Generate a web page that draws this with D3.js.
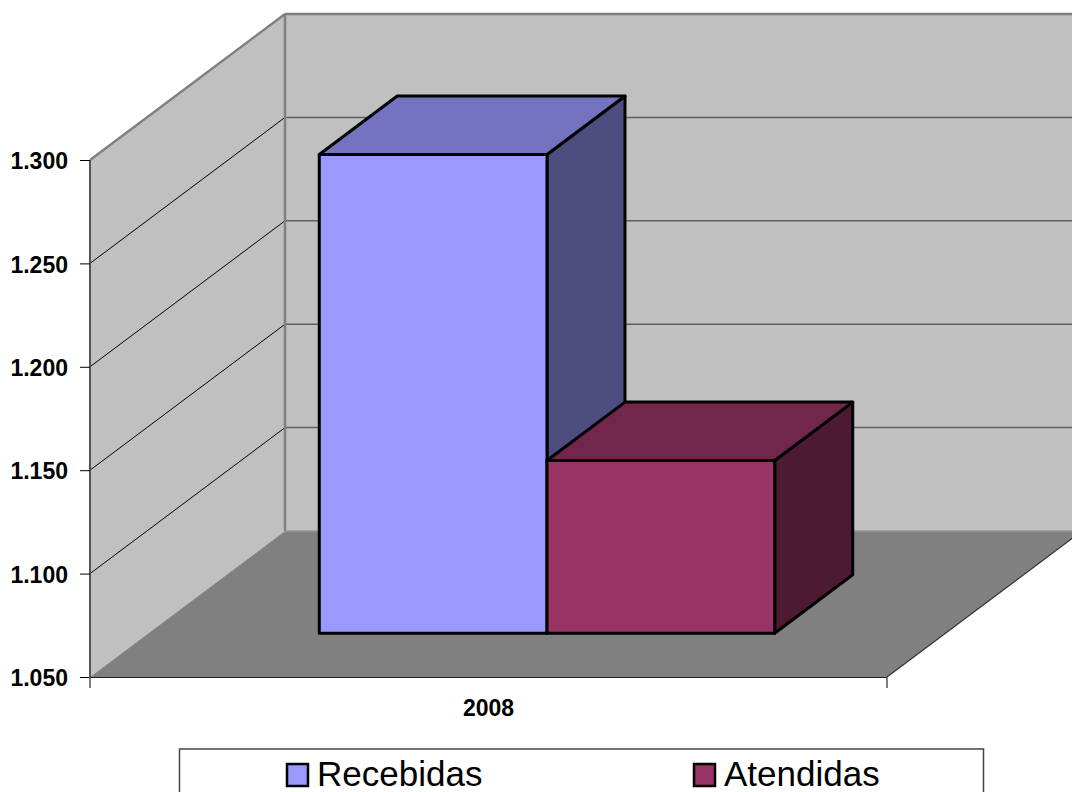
<!DOCTYPE html>
<html><head><meta charset="utf-8">
<script src="https://cdnjs.cloudflare.com/ajax/libs/d3/7.8.5/d3.min.js"></script>
<style>html,body{margin:0;padding:0;background:#fff;overflow:hidden}svg{display:block;font-family:"Liberation Sans",Arial,sans-serif}</style>
</head><body><svg id="c" width="1072" height="792"></svg>
<script>
const categories = ["2008"];
const seriesNames = ["Recebidas", "Atendidas"];
const seriesValues = [1281.5, 1133.5];
const frontColors = ["#9999FF", "#993366"];
const topColors = ["#7373BF", "#73264C"];
const sideColors = ["#4D4D80", "#4D1A33"];
const yTicks = [1050, 1100, 1150, 1200, 1250, 1300];

const svg = d3.select("#c");
const y = d3.scaleLinear().domain([1050, 1300]).range([677, 160]);
const x0 = d3.scaleBand().domain(categories).range([90, 887]);
const depth = d3.scaleLinear().domain([0, 1]).range([0, 1]);
const DX = 195, DY = -146;
const px = (x, d) => x + depth(d) * DX;
const py = (v, d) => y(v) + depth(d) * DY;
const poly = (pts, fill, stroke, sw) => svg.append("polygon")
  .attr("points", pts.map(p => p.join(",")).join(" "))
  .attr("fill", fill).attr("stroke", stroke || "none").attr("stroke-width", sw || 0).attr("stroke-linejoin", "round");
const [vMin, vMax] = y.domain();
const xL = x0.range()[0], xR = x0.range()[1];

// walls
poly([[px(xL,1),py(vMin,1)],[px(xR,1),py(vMin,1)],[px(xR,1),py(vMax,1)],[px(xL,1),py(vMax,1)]], "#C0C0C0");
poly([[px(xL,0),py(vMin,0)],[px(xL,1),py(vMin,1)],[px(xL,1),py(vMax,1)],[px(xL,0),py(vMax,0)]], "#C0C0C0");
poly([[px(xL,0),py(vMin,0)],[px(xR,0),py(vMin,0)],[px(xR,1),py(vMin,1)],[px(xL,1),py(vMin,1)]], "#808080");

// gridlines
yTicks.slice(1, -1).forEach(t => {
  svg.append("line").attr("x1", px(xL,0)).attr("y1", py(t,0)).attr("x2", px(xL,1)).attr("y2", py(t,1)).attr("stroke", "#000").attr("stroke-width", 1);
  svg.append("line").attr("x1", px(xL,1)).attr("y1", py(t,1)).attr("x2", px(xR,1)).attr("y2", py(t,1)).attr("stroke", "#5f5f5f").attr("stroke-width", 1.5);
});

// wall borders
const line = (a, b, c, w) => svg.append("line").attr("x1", a[0]).attr("y1", a[1]).attr("x2", b[0]).attr("y2", b[1]).attr("stroke", c).attr("stroke-width", w);
line([px(xL,1),py(vMin,1)], [px(xL,1),py(vMax,1)], "#808080", 2.5);
line([px(xL,1),py(vMax,1)], [px(xR,1),py(vMax,1)], "#808080", 2.5);
line([px(xL,0),py(vMax,0)], [px(xL,1),py(vMax,1)], "#808080", 2.5);
line([px(xL,1),py(vMin,1)], [px(xR,1),py(vMin,1)], "#969696", 1.5);
line([px(xL,0),py(vMin,0)], [px(xL,0),py(vMax,0)], "#555", 2);
line([px(xR,0),py(vMin,0)], [px(xR,1),py(vMin,1)], "#333", 1.2);

// axes
const fmt = d3.formatLocale({decimal: ",", thousands: ".", grouping: [3], currency: ["", ""]}).format(",d");
const yAxis = svg.append("g").attr("transform", `translate(${xL},0)`)
  .call(d3.axisLeft(y).tickValues(yTicks).tickFormat(fmt).tickSize(10).tickPadding(12));
yAxis.select(".domain").remove();
yAxis.selectAll("line").attr("stroke", "#000").attr("stroke-width", 1);
yAxis.selectAll("text").attr("font-size", 23).attr("font-weight", "bold").attr("fill", "#000").attr("font-family", "Liberation Sans").attr("dy", "0.38em");

const xAxis = svg.append("g").attr("transform", "translate(0,677)")
  .call(d3.axisBottom(x0).tickSize(0).tickPadding(23));
xAxis.select(".domain").remove();
xAxis.selectAll("text").attr("font-size", 23).attr("font-weight", "bold").attr("fill", "#000").attr("font-family", "Liberation Sans");
line([xL,677.5],[xR,677.5],"#222",1.2);
line([xL,677],[xL,688],"#555",1.5);
line([xR,677],[xR,688],"#555",1.5);

// bars
const band = d3.scaleBand().domain(seriesNames).range([x0(categories[0]), x0(categories[0]) + x0.bandwidth()]).paddingOuter(0.75).paddingInner(0);
const d1 = 0.3, d2 = 0.7;
seriesNames.forEach((s, i) => {
  const a = band(s), b = a + band.bandwidth(), v = seriesValues[i];
  const sw = 3, k = "#000";
  poly([[px(b,d1),py(vMin,d1)],[px(b,d2),py(vMin,d2)],[px(b,d2),py(v,d2)],[px(b,d1),py(v,d1)]], sideColors[i], k, sw);
  poly([[px(a,d1),py(v,d1)],[px(b,d1),py(v,d1)],[px(b,d2),py(v,d2)],[px(a,d2),py(v,d2)]], topColors[i], k, sw);
  poly([[px(a,d1),py(vMin,d1)],[px(b,d1),py(vMin,d1)],[px(b,d1),py(v,d1)],[px(a,d1),py(v,d1)]], frontColors[i], k, sw);
});

// legend
svg.append("rect").attr("x", 179.5).attr("y", 749).attr("width", 804).attr("height", 60).attr("fill", "#fff").attr("stroke", "#444").attr("stroke-width", 1.5);
const legendX = d3.scaleOrdinal().domain(seriesNames).range([286, 693]);
seriesNames.forEach((s, i) => {
  svg.append("rect").attr("x", legendX(s) + 1).attr("y", 764).attr("width", 21).attr("height", 22).attr("fill", frontColors[i]).attr("stroke", "#000").attr("stroke-width", 2.5);
  svg.append("text").attr("x", legendX(s) + 31).attr("y", 786).attr("font-size", 35).attr("fill", "#000").text(s);
});
</script></body></html>
